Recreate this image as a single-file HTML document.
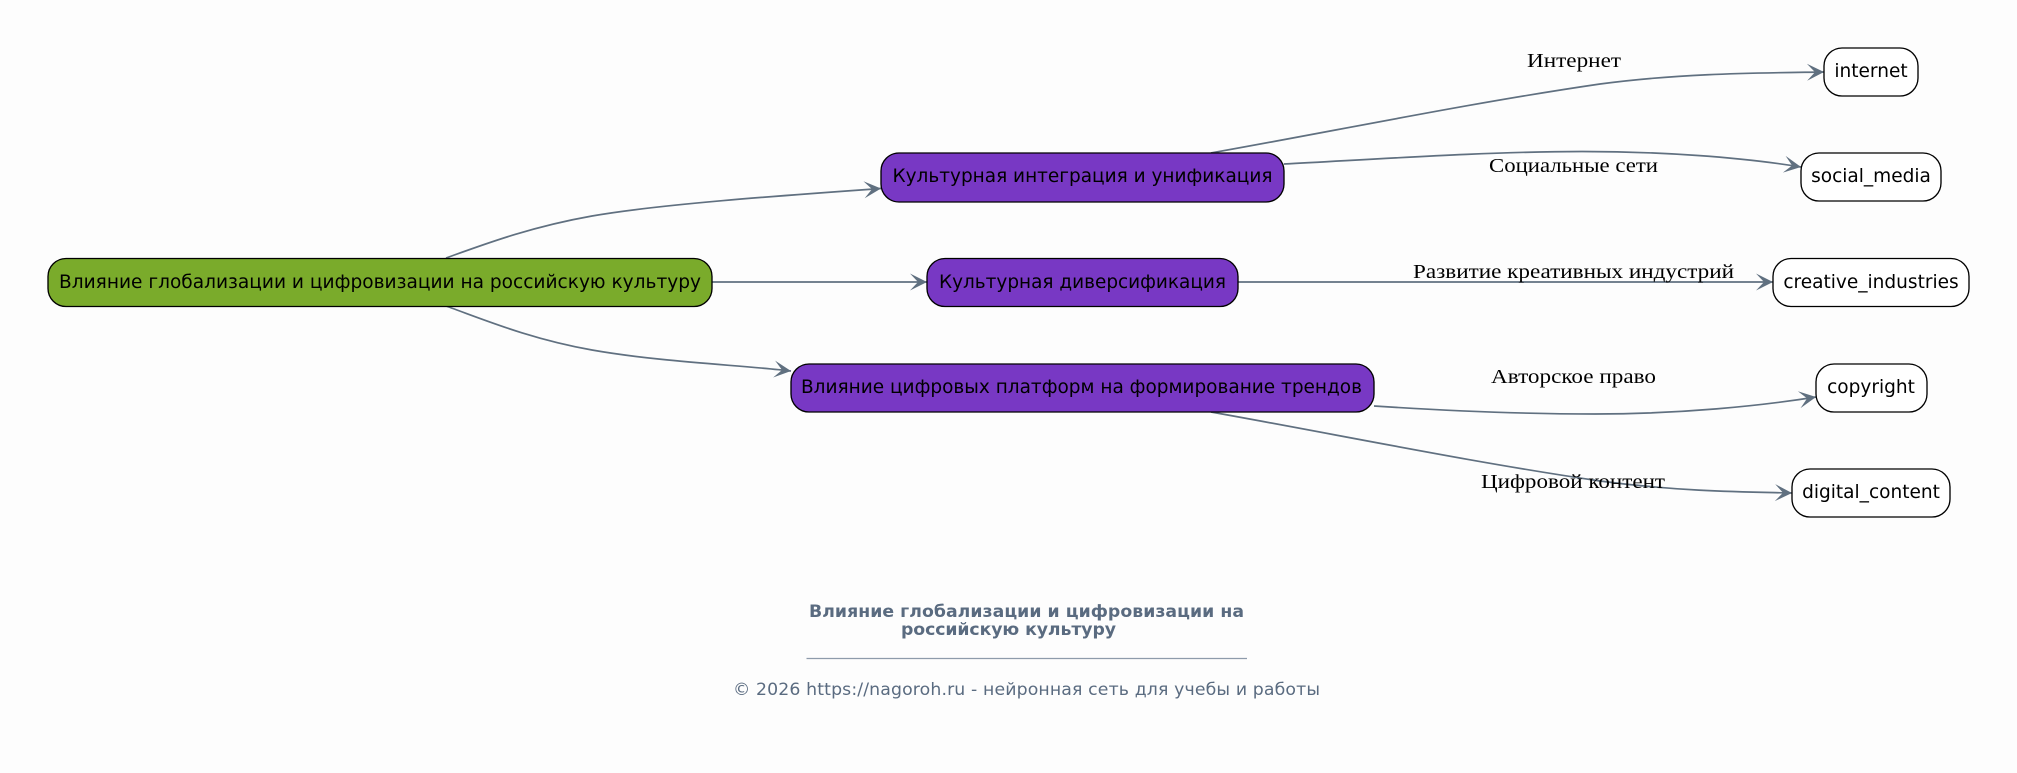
<!DOCTYPE html>
<html><head><meta charset="utf-8"><style>
html,body{margin:0;padding:0;background:#fdfdfd}
svg{display:block}
.n{font-family:"DejaVu Sans","Liberation Sans",sans-serif;font-size:18.55px;fill:#000;text-anchor:middle}
.l{font-family:"Liberation Serif","DejaVu Serif",serif;font-size:20.5px;fill:#000}
.e{fill:none;stroke:#607080;stroke-width:1.7;marker-end:url(#v)}
</style></head><body>
<svg width="2017" height="773" viewBox="0 0 2017 773" xmlns="http://www.w3.org/2000/svg">
<defs><marker id="v" markerUnits="userSpaceOnUse" markerWidth="26" markerHeight="26" refX="20" refY="13" orient="auto"><path d="M20 13L3 4.500L11 13L3 21.500Z" fill="#607080"/></marker></defs>
<rect width="2017" height="773" fill="#fdfdfd"/>
<path class="e" d="M446 258C485 244 530 227 592 216C660 204 790 195 881 188.500"/>
<path class="e" d="M711 282L927 282"/>
<path class="e" d="M446 306C485 320 530 339 592 350C660 362 740 365 791 371"/>
<path class="e" d="M1211 153C1340 130 1470 103 1600 84C1682 73 1760 73 1824 72"/>
<path class="e" d="M1284 164C1380 159 1490 151.500 1582 151.500C1660 151.500 1740 157 1801 167"/>
<path class="e" d="M1237 282L1773 282"/>
<path class="e" d="M1374 406C1450 411 1530 414 1595 414C1680 414 1760 406 1816 397"/>
<path class="e" d="M1211 412C1340 435 1470 462 1600 481C1682 492 1750 492 1792 493"/>
<g stroke="#000" stroke-width="1.330">
<rect x="48" y="258.500" width="664" height="48" rx="18" fill="#7aab2b"/>
<rect x="881" y="153" width="403" height="49" rx="18" fill="#7838c4"/>
<rect x="927" y="258.500" width="311" height="48" rx="18" fill="#7838c4"/>
<rect x="791" y="364" width="583" height="48" rx="18" fill="#7838c4"/>
<rect x="1824" y="48" width="94" height="48" rx="18" fill="#fff"/>
<rect x="1801" y="153" width="140" height="48" rx="18" fill="#fff"/>
<rect x="1773" y="258.500" width="196" height="48" rx="18" fill="#fff"/>
<rect x="1816" y="364" width="111" height="48" rx="18" fill="#fff"/>
<rect x="1792" y="469" width="158" height="48" rx="18" fill="#fff"/>
</g>
<g class="t">
<text class="n" x="380" y="288" textLength="642" lengthAdjust="spacingAndGlyphs">Влияние глобализации и цифровизации на российскую культуру</text>
<text class="n" x="1082.500" y="182" textLength="380" lengthAdjust="spacingAndGlyphs">Культурная интеграция и унификация</text>
<text class="n" x="1082.500" y="288" textLength="287" lengthAdjust="spacingAndGlyphs">Культурная диверсификация</text>
<text class="n" x="1081.500" y="393" textLength="561" lengthAdjust="spacingAndGlyphs">Влияние цифровых платформ на формирование трендов</text>
<text class="n" x="1871" y="77">internet</text>
<text class="n" x="1871" y="182">social_media</text>
<text class="n" x="1871" y="288">creative_industries</text>
<text class="n" x="1871" y="393">copyright</text>
<text class="n" x="1871" y="498">digital_content</text>
<text class="l" x="1527" y="67" textLength="94" lengthAdjust="spacingAndGlyphs">Интернет</text>
<text class="l" x="1489" y="172" textLength="169" lengthAdjust="spacingAndGlyphs">Социальные сети</text>
<text class="l" x="1413" y="278" textLength="321" lengthAdjust="spacingAndGlyphs">Развитие креативных индустрий</text>
<text class="l" x="1491" y="383" textLength="165" lengthAdjust="spacingAndGlyphs">Авторское право</text>
<text class="l" x="1481" y="488" textLength="184" lengthAdjust="spacingAndGlyphs">Цифровой контент</text>
</g>
<g font-family="'DejaVu Sans',sans-serif" fill="#5a6b80">
<text x="809" y="617" font-size="17.300" font-weight="700" textLength="435" lengthAdjust="spacing">Влияние глобализации и цифровизации на</text>
<text x="901" y="635" font-size="17.300" font-weight="700" textLength="215" lengthAdjust="spacing">российскую культуру</text>
<text x="733" y="695" font-size="17.300" textLength="587" lengthAdjust="spacing">© 2026 https://nagoroh.ru - нейронная сеть для учебы и работы</text>
</g>
<line x1="806.500" y1="658.500" x2="1247" y2="658.500" stroke="#8e9bab" stroke-width="1.300"/>
</svg>
</body></html>
